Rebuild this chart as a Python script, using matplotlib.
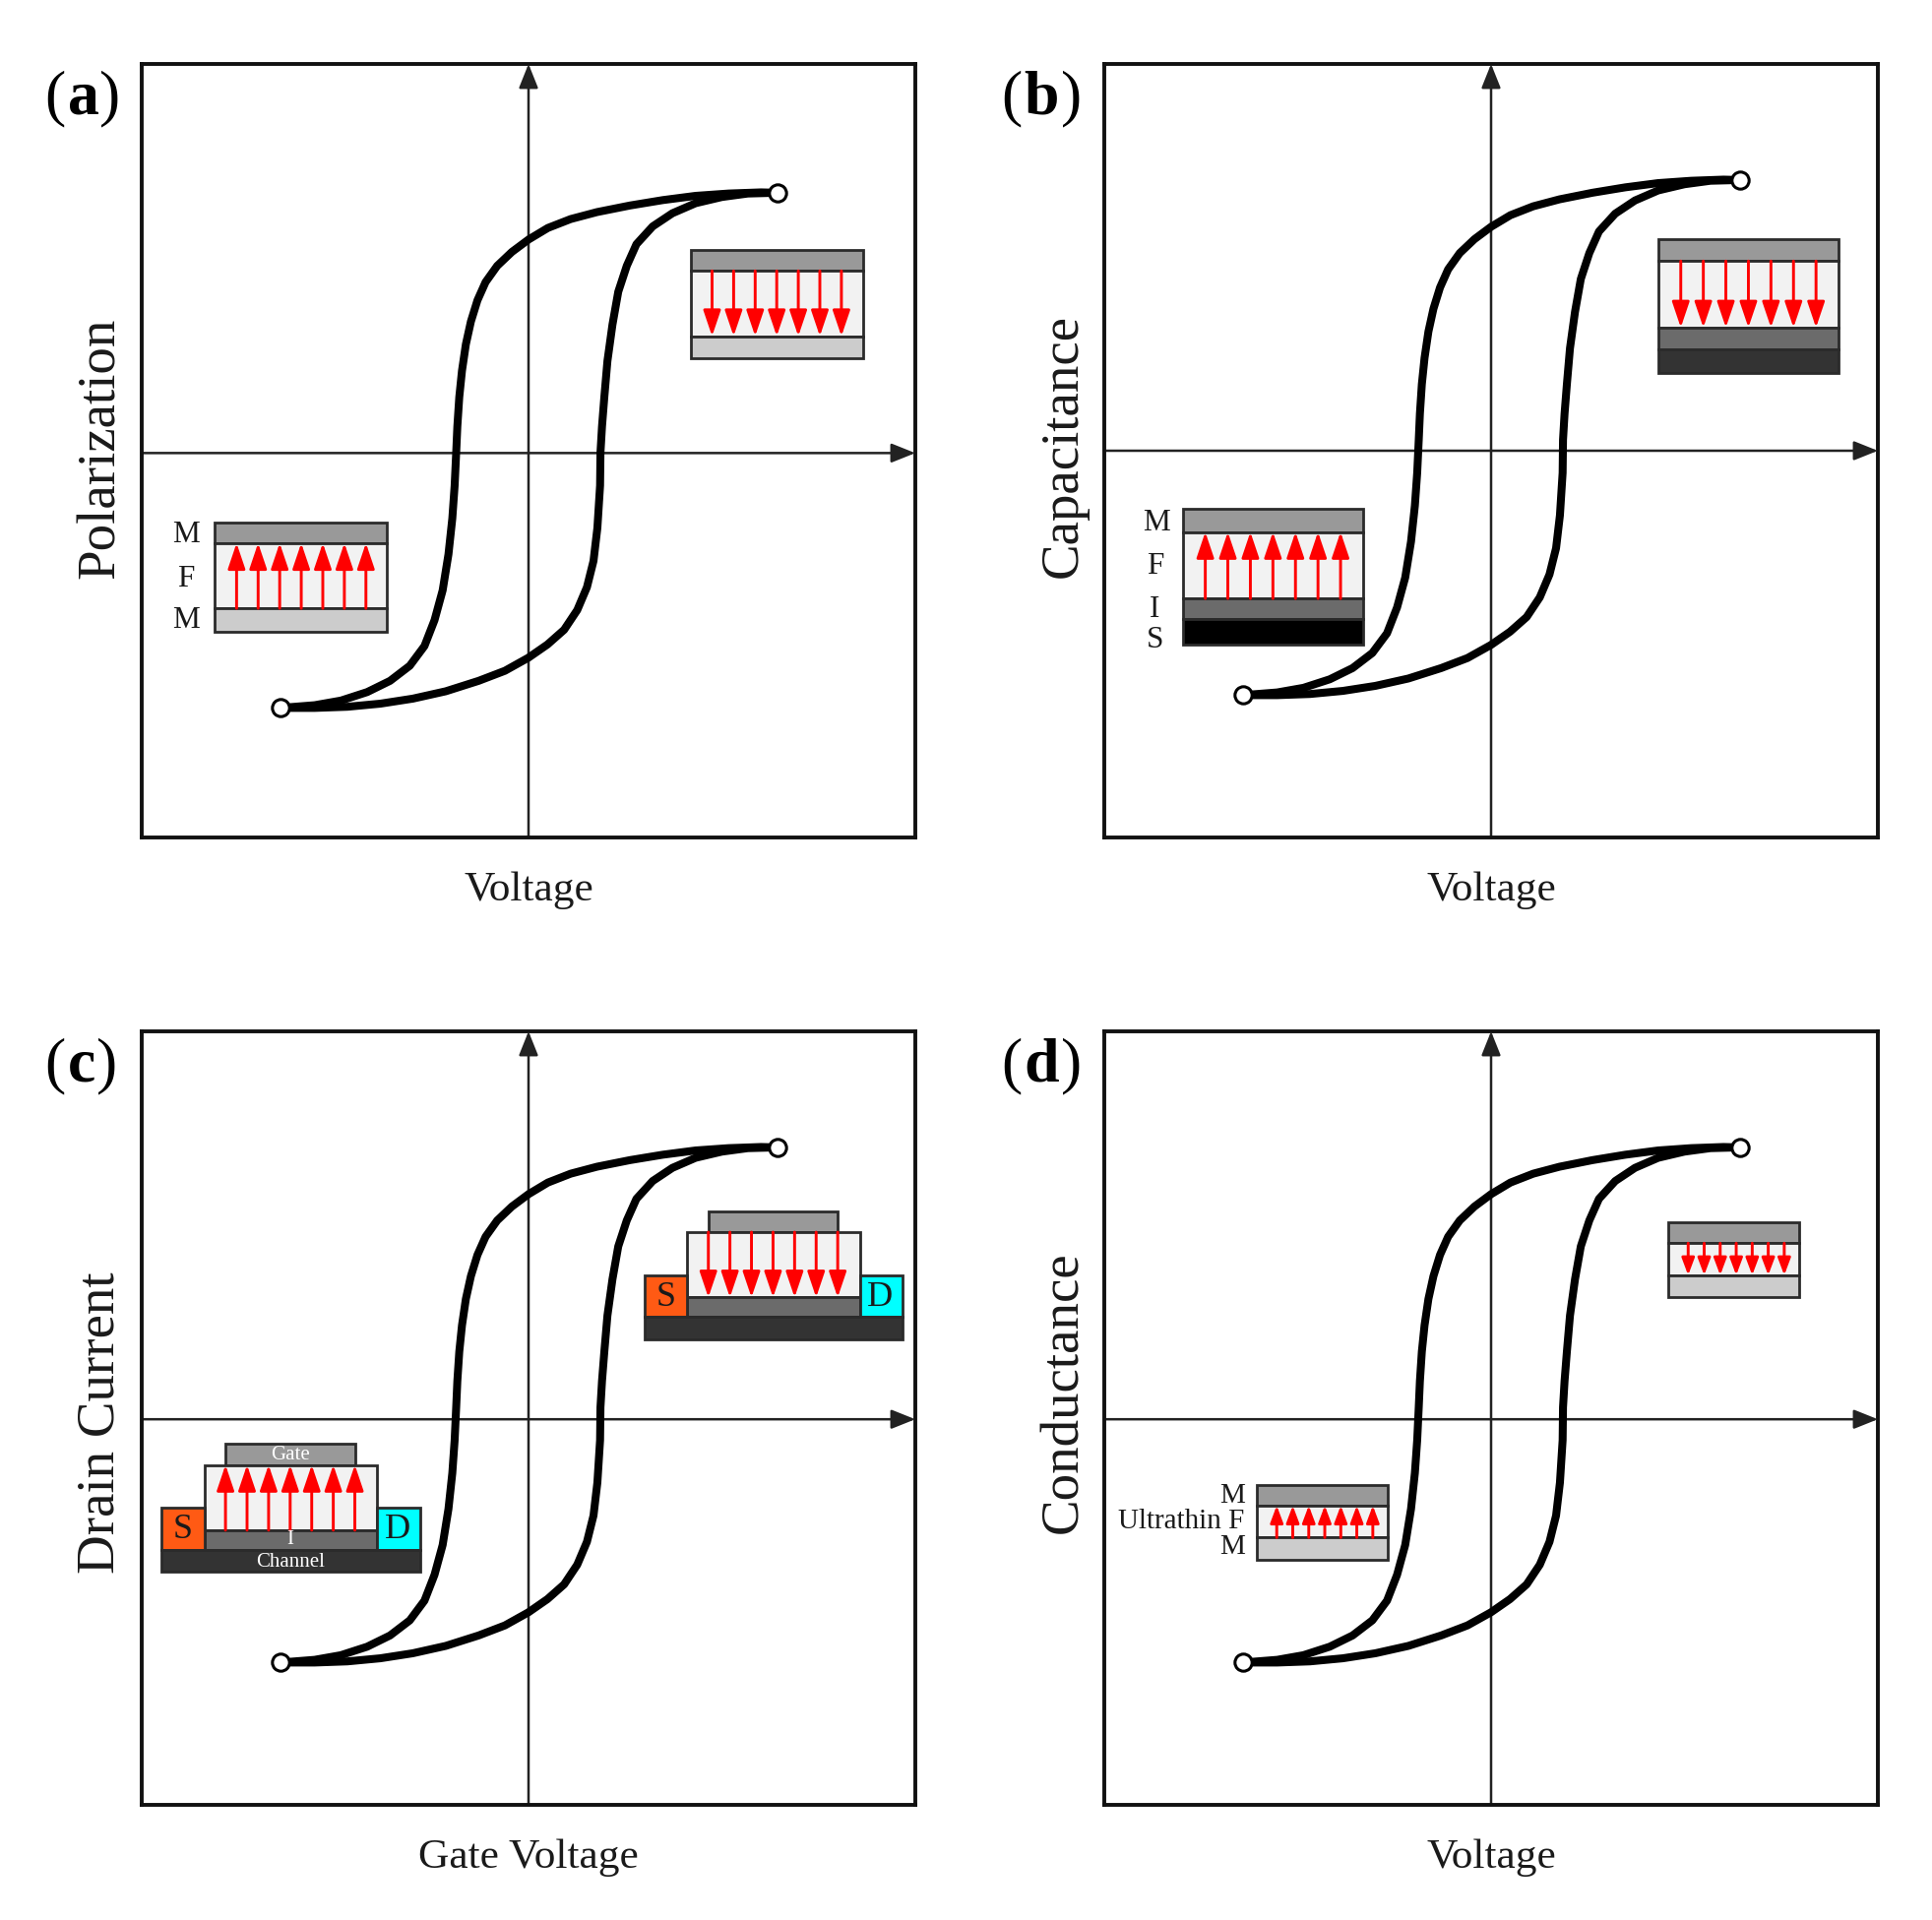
import matplotlib
matplotlib.use('Agg')
import matplotlib.pyplot as plt
from matplotlib.patches import Rectangle

plt.rcParams['font.family'] = ['Liberation Serif', 'DejaVu Serif']

# Hysteresis loop, in units of half the panel width
upper_x = [0.644, 0.601, 0.517, 0.432, 0.347, 0.262, 0.177, 0.109, 0.050, 0.0, -0.043, -0.081, -0.111, -0.132, -0.149,
           -0.162, -0.172, -0.179, -0.184, -0.187, -0.191, -0.197, -0.207, -0.222, -0.243, -0.269, -0.307, -0.358,
           -0.417, -0.485, -0.553, -0.642]
upper_y = [0.667, 0.668, 0.665, 0.659, 0.648, 0.634, 0.617, 0.599, 0.576, 0.546, 0.514, 0.478, 0.436, 0.389, 0.334,
           0.275, 0.207, 0.139, 0.063, -0.005, -0.090, -0.175, -0.268, -0.361, -0.438, -0.505, -0.556, -0.595,
           -0.624, -0.646, -0.658, -0.665]
lower_x = [-0.642, -0.553, -0.468, -0.383, -0.299, -0.214, -0.129, -0.061, 0.0, 0.049, 0.092, 0.126, 0.151, 0.168, 0.178,
           0.185, 0.186, 0.190, 0.196, 0.204, 0.217, 0.232, 0.254, 0.279, 0.321, 0.372, 0.432, 0.500, 0.567, 0.644]
lower_y = [-0.665, -0.665, -0.662, -0.654, -0.641, -0.622, -0.595, -0.569, -0.535, -0.501, -0.463, -0.412, -0.353, -0.285, -0.200,
           -0.090, -0.005, 0.063, 0.139, 0.232, 0.326, 0.411, 0.478, 0.534, 0.580, 0.614, 0.640, 0.656, 0.665, 0.667]

panel_letters = ['a', 'b', 'c', 'd']
x_labels = ['Voltage', 'Voltage', 'Gate Voltage', 'Voltage']
y_labels = ['Polarization', 'Capacitance', 'Drain Current', 'Conductance']
loop_shift = [0.0, 0.033, 0.033, 0.033]
axis_y = [-0.006, 0.0, -0.003, -0.003]
y_label_pos = [312, 310, 318, 293]
open_pos = [-70.7, -75, -70.7, -75]
letter_pos = [-47, -51, -49, -51]
close_pos = [-26, -27, -28, -27]

# panel corners in pixels of the full picture
panel_left = [144, 1122, 144, 1122]
panel_top = [65, 65, 1048, 1048]
panel_size = 786

M_TOP = '#999999'
M_BOT = '#cccccc'
FERRO = '#f2f2f2'
INS = '#6b6b6b'
DARK = '#333333'
EDGE = '#2b2b2b'
TXT = '#1a1a1a'


def u(dx):
    return dx / 314 - 1


def v(dy):
    return 1 - dy / 314


def box(ax, x0, x1, y0, y1, color, zorder=5):
    ax.add_patch(Rectangle((u(x0), v(y1)), u(x1) - u(x0), v(y0) - v(y1), facecolor=color,
                           edgecolor=EDGE, linewidth=2.0, zorder=zorder))


def field_arrows(ax, x_first, step, y_from, y_to, small=False):
    # the seven red polarization arrows
    style = '-|>,head_length=0.8,head_width=0.27'
    scale = 20
    if small:
        style = '-|>,head_length=0.75,head_width=0.28'
        scale = 14
    for i in range(7):
        x = u(x_first + i * step)
        ax.annotate('', xy=(x, v(y_to)), xytext=(x, v(y_from)), zorder=7,
                    arrowprops=dict(arrowstyle=style, color='#ff0000', lw=2.1, mutation_scale=scale,
                                    shrinkA=0, shrinkB=0))


def stack(ax, x0, x1, edges, colors, up, first, step, small=False):
    for i, c in enumerate(colors):
        box(ax, x0, x1, edges[i], edges[i + 1], c)
    if up:
        field_arrows(ax, first, step, edges[2], edges[1], small)
    else:
        field_arrows(ax, first, step, edges[1], edges[2], small)


def label(ax, dx, dy, s, size=22.5, color=TXT, ha='center', **kw):
    ax.text(u(dx), v(dy), s, fontsize=size, color=color, ha=ha, va='center', zorder=8, clip_on=False, **kw)


def transistor(ax, dx, dy, up, names):
    # dx, dy move the whole device, drawn for the lower left one
    box(ax, 68 + dx, 173 + dx, 335 + dy, 352 + dy, M_TOP)
    box(ax, 51 + dx, 191 + dx, 352 + dy, 405 + dy, FERRO)
    box(ax, 51 + dx, 191 + dx, 405 + dy, 421 + dy, INS)
    box(ax, 16 + dx, 51 + dx, 387 + dy, 421 + dy, '#ff5a14')
    box(ax, 191 + dx, 226 + dx, 387 + dy, 421 + dy, '#00ffff')
    box(ax, 16 + dx, 226 + dx, 421 + dy, 439 + dy, DARK)
    if up:
        field_arrows(ax, 68 + dx, 17.5, 405 + dy, 352 + dy)
    else:
        field_arrows(ax, 68 + dx, 17.5, 352 + dy, 405 + dy)
    label(ax, 33.5 + dx, 405 + dy, 'S', size=26)
    label(ax, 207.5 + dx, 405 + dy, 'D', size=26)
    if names:
        label(ax, 120.5 + dx, 344 + dy, 'Gate', size=15, color='white')
        label(ax, 120.5 + dx, 413 + dy, 'I', size=15, color='white')
        label(ax, 120.5 + dx, 431 + dy, 'Channel', size=15, color='white')


fig = plt.figure(figsize=(19.63, 19.51), dpi=100)
axes = []
for i in range(4):
    ax = fig.add_axes([panel_left[i] / 1963, 1 - (panel_top[i] + panel_size) / 1951,
                       panel_size / 1963, panel_size / 1951])
    axes.append(ax)
    ax.set_xlim(-1, 1)
    ax.set_ylim(-1, 1)
    ax.set_xticks([])
    ax.set_yticks([])
    for s in ax.spines.values():
        s.set_linewidth(2.8)
        s.set_color('#111111')

    # crossing axes with arrow heads
    head = dict(arrowstyle='-|>,head_length=0.75,head_width=0.3', color='#222222', lw=1.8, mutation_scale=20,
                shrinkA=0, shrinkB=0)
    ax.annotate('', xy=(0, 1), xytext=(0, -1), arrowprops=head, zorder=2)
    ax.annotate('', xy=(1, axis_y[i]), xytext=(-1, axis_y[i]), arrowprops=head, zorder=2)

    shift = loop_shift[i]
    ax.plot(upper_x, [y + shift for y in upper_y], color='black', lw=5.8, solid_joinstyle='round', zorder=3)
    ax.plot(lower_x, [y + shift for y in lower_y], color='black', lw=5.8, solid_joinstyle='round', zorder=3)
    ax.plot([upper_x[0], lower_x[0]], [upper_y[0] + shift, lower_y[0] + shift], ls='none', marker='o', ms=12.5,
            mfc='white', mec='black', mew=2.2, zorder=4)

    label(ax, 314, 671, x_labels[i], size=31.2)
    ax.text(u(-33), v(y_label_pos[i]), y_labels[i], fontsize=39.5, color=TXT, rotation=90, ha='center', va='center')

    # panel tag: plain brackets round a bold letter
    ax.text(u(open_pos[i]), v(40), '(', fontsize=46, color='black', ha='center', va='baseline', clip_on=False)
    ax.text(u(letter_pos[i]), v(40), panel_letters[i], fontsize=46, color='black', weight='bold',
            ha='center', va='baseline', clip_on=False)
    ax.text(u(close_pos[i]), v(40), ')', fontsize=46, color='black', ha='center', va='baseline', clip_on=False)

# (a) MFM capacitor
ax = axes[0]
stack(ax, 59, 199, [372, 389, 442, 461], [M_TOP, FERRO, M_BOT], True, 77, 17.5)
stack(ax, 446, 586, [151, 168, 221, 239], [M_TOP, FERRO, M_BOT], False, 463, 17.5)
label(ax, 36, 382, 'M')
label(ax, 36, 418, 'F')
label(ax, 36, 452, 'M')

# (b) MFIS capacitor
ax = axes[1]
stack(ax, 64, 210, [361, 380, 434, 451, 471], [M_TOP, FERRO, INS, 'black'], True, 82, 18.3)
stack(ax, 450, 596, [142, 160, 214, 232, 251], [M_TOP, FERRO, INS, DARK], False, 468, 18.3)
label(ax, 42, 373, 'M')
label(ax, 41, 408, 'F')
label(ax, 41, 443, 'I')
label(ax, 41, 468, 'S')

# (c) FeFET
ax = axes[2]
transistor(ax, 0, 0, True, True)
transistor(ax, 392, -189, False, False)

# (d) ferroelectric tunnel junction
ax = axes[3]
stack(ax, 124, 230, [368, 385, 411, 429], [M_TOP, FERRO, M_BOT], True, 140, 13, small=True)
stack(ax, 458, 564, [155, 172, 198, 216], [M_TOP, FERRO, M_BOT], False, 474, 13, small=True)
label(ax, 114, 377, 'M', size=21, ha='right')
label(ax, 114, 398, 'Ultrathin F', size=21, ha='right')
label(ax, 114, 419, 'M', size=21, ha='right')

fig.savefig('out.png', dpi=100, facecolor='white')
